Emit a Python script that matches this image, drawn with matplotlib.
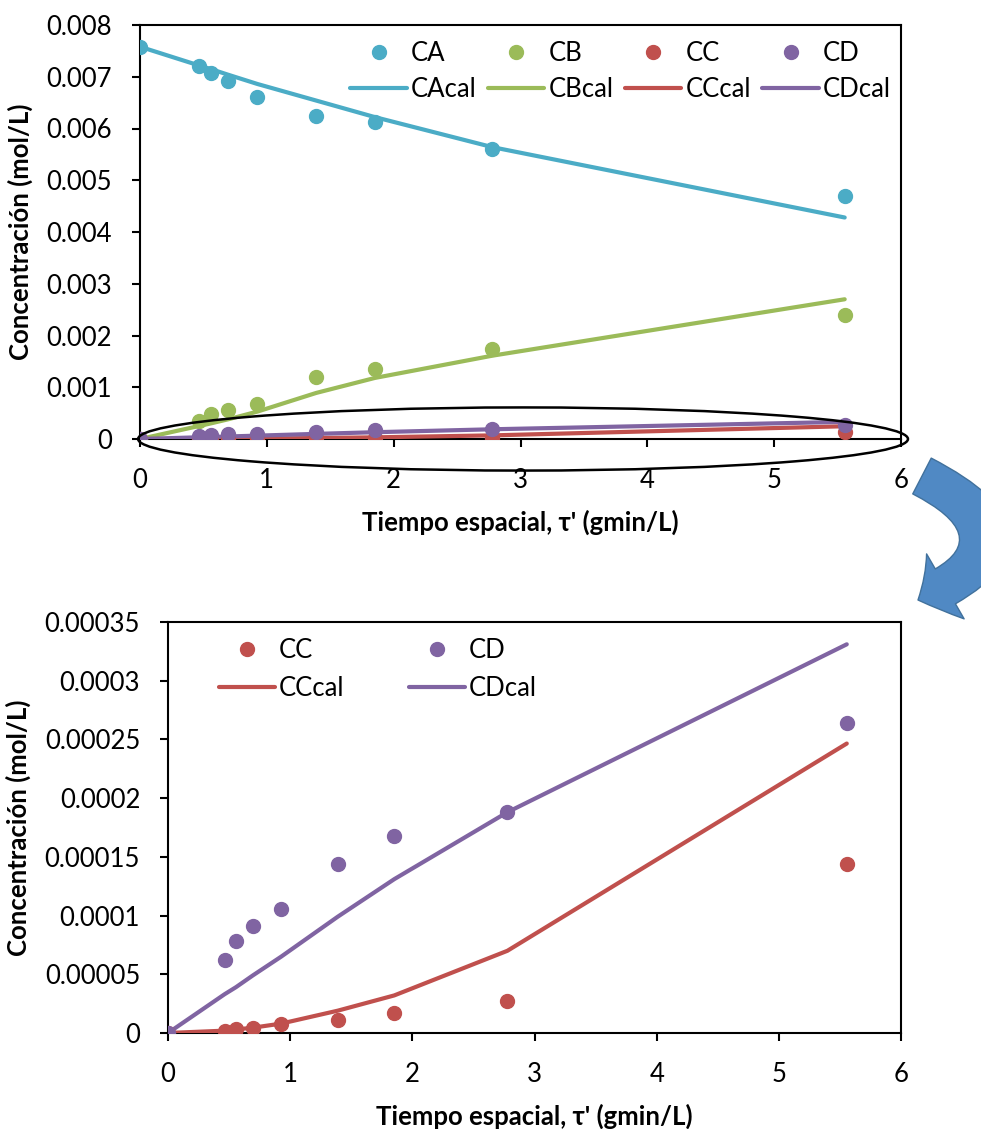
import matplotlib
matplotlib.use("Agg")
import matplotlib.pyplot as plt
from matplotlib.patches import Ellipse, FancyArrowPatch, ArrowStyle

plt.rcParams["font.family"] = ["Lato", "DejaVu Sans"]

# ── data ───────────────────────────────────────────────────────────────────────
tau = [0, 0.463, 0.556, 0.694, 0.926, 1.389, 1.852, 2.778, 5.556]

CA = [0.00757, 0.00721, 0.00708, 0.00691, 0.00661, 0.00624, 0.00613, 0.00560, 0.00470]
CB = [0, 0.00034, 0.00049, 0.00057, 0.00067, 0.00120, 0.00136, 0.00174, 0.00240]
CC = [0, 0.000002, 0.000003, 0.000004, 0.000008, 0.000011, 0.000017, 0.000027, 0.0001435]
CD = [0, 0.0000625, 0.000078, 0.000091, 0.000106, 0.0001435, 0.000168, 0.000188, 0.000264]

CAcal = [0.00758, 0.00722, 0.00715, 0.00704, 0.00686, 0.00654, 0.00622, 0.00564, 0.00428]
CBcal = [0, 0.00025, 0.00030, 0.00038, 0.00053, 0.00089, 0.00118, 0.00161, 0.00270]
CCcal = [0, 0.000002, 0.000003, 0.0000045, 0.000008, 0.000019, 0.000032, 0.000070, 0.0002465]
CDcal = [0, 0.000033, 0.000039, 0.000049, 0.000065, 0.000099, 0.000131, 0.000188, 0.000331]

COLORS = {"A": "#4BACC6", "B": "#9BBB59", "C": "#C0504D", "D": "#8064A2"}

FS = 18.5
LABEL_FS = 18.5
W, H = 981, 1129


def fmt_num(v):
    if v == 0:
        return "0"
    return f"{v:.5f}".rstrip("0")


def style_axes(ax, ymax, ystep):
    ax.set_xlim(0, 6)
    ax.set_ylim(0, ymax)
    ax.set_xticks(range(0, 7))
    n = int(round(ymax / ystep))
    ticks = [i * ystep for i in range(n + 1)]
    ax.set_yticks(ticks)
    ax.set_yticklabels([fmt_num(t) for t in ticks])
    for s in ax.spines.values():
        s.set_linewidth(1.5)
        s.set_color("black")
    ax.tick_params(axis="both", direction="out", length=6, width=1.5, labelsize=FS)
    ax.tick_params(axis="x", pad=15)
    ax.tick_params(axis="y", pad=14)
    ax.set_xlabel("Tiempo espacial, τ' (gmin/L)", fontsize=LABEL_FS,
                  fontweight="bold", labelpad=12)
    ax.set_ylabel("Concentración (mol/L)", fontsize=LABEL_FS,
                  fontweight="bold", labelpad=10)


def plot_series(ax, series):
    handles = []
    for key, pts, cal in series:
        c = COLORS[key]
        h1, = ax.plot(tau, pts, "o", color=c, markersize=10, label="C" + key, zorder=4)
        h2, = ax.plot(tau, cal, "-", color=c, linewidth=3, label="C" + key + "cal",
                      solid_capstyle="round", zorder=3)
        handles += [h1, h2]
    return handles


fig = plt.figure(figsize=(W / 100, H / 100), dpi=100)

# ── top chart ─────────────────────────────────────────────────────────────────
ax1 = fig.add_axes([140 / W, 1 - 439 / H, 761 / W, 414 / H])
handles = plot_series(ax1, [("A", CA, CAcal), ("B", CB, CBcal),
                            ("C", CC, CCcal), ("D", CD, CDcal)])
ax1.add_patch(Ellipse((3.02, 0.0), 6.07, 0.00122, fill=False, edgecolor="black",
                      linewidth=1.8, clip_on=False, zorder=5))
style_axes(ax1, 0.008, 0.001)
ax1.legend(handles=handles, ncol=4, loc="upper right", bbox_to_anchor=(1.0, 0.985),
           frameon=False, fontsize=FS, numpoints=1, handlelength=2.2,
           handletextpad=0.15, columnspacing=0.45, labelspacing=0.4, borderaxespad=0)

# ── bottom chart (zoom on CC / CD) ────────────────────────────────────────────
ax2 = fig.add_axes([168 / W, 1 - 1033 / H, 733 / W, 411 / H])
handles = plot_series(ax2, [("C", CC, CCcal), ("D", CD, CDcal)])
style_axes(ax2, 0.00035, 0.00005)
ax2.legend(handles=handles, ncol=2, loc="upper left", bbox_to_anchor=(0.055, 0.985),
           frameon=False, fontsize=FS, numpoints=1, handlelength=2.2,
           handletextpad=0.15, columnspacing=2.5, labelspacing=0.5, borderaxespad=0)

# ── curved arrow between the charts ───────────────────────────────────────────
arrow = FancyArrowPatch(
    (922 / W, 1 - 476 / H), (918 / W, 1 - 600 / H),
    transform=fig.transFigure,
    connectionstyle="arc3,rad=-1.05",
    arrowstyle=ArrowStyle.Simple(head_length=22, head_width=54, tail_width=29),
    mutation_scale=1, shrinkA=0, shrinkB=0,
    facecolor="#5089C4", edgecolor="#41719C", linewidth=1,
)
fig.add_artist(arrow)

fig.savefig("out.png", dpi=100)
